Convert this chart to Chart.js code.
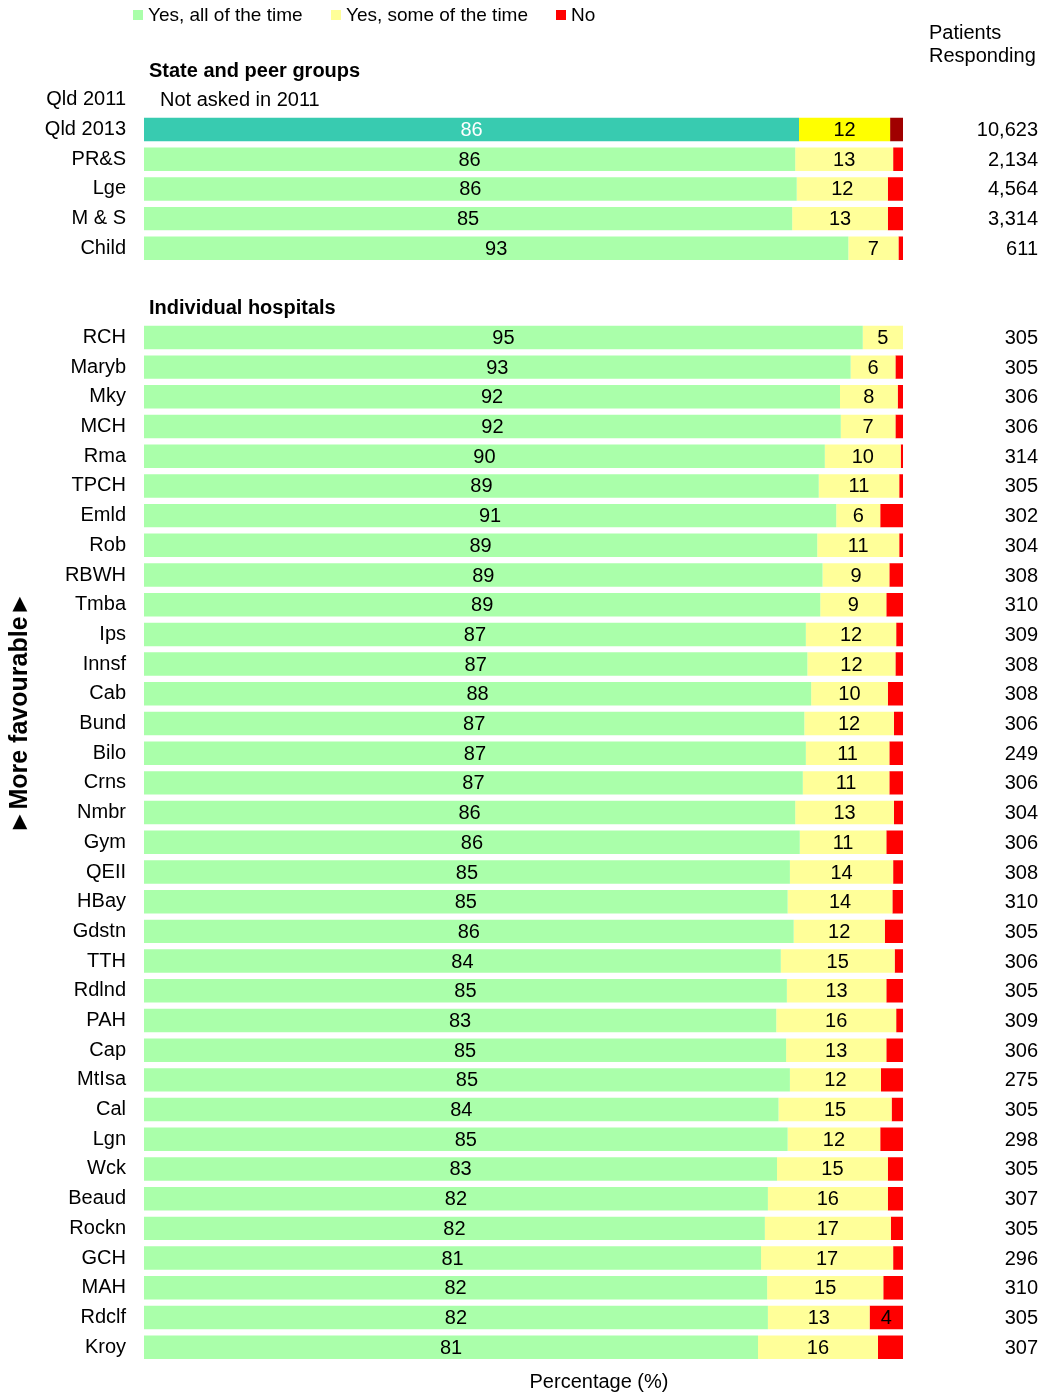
<!DOCTYPE html>
<html>
<head>
<meta charset="utf-8">
<title>More favourable</title>
<script src="https://cdn.jsdelivr.net/npm/chart.js@4/dist/chart.umd.min.js"></script>
<style>
    html, body { margin: 0; padding: 0; background: #fff; }
    #wrap { width: 1045px; height: 1392px; }
</style>
</head>
<body>
<div id="wrap"><canvas id="chart" width="1045" height="1392"></canvas></div>
<script>
'use strict';

var groupLabels = ['Qld 2011', 'Qld 2013', 'PR&S', 'Lge', 'M & S', 'Child'];
var groupAll = [null, 86.3, 85.8, 86.0, 85.4, 92.8];
var groupSome = [null, 12.0, 12.9, 12.0, 12.6, 6.6];
var groupNo = [null, 1.7, 1.3, 2.0, 2.0, 0.6];
var groupN = ['', '10,623', '2,134', '4,564', '3,314', '611'];

var hospitalLabels = ['RCH', 'Maryb', 'Mky', 'MCH', 'Rma', 'TPCH', 'Emld', 'Rob', 'RBWH', 'Tmba',
    'Ips', 'Innsf', 'Cab', 'Bund', 'Bilo', 'Crns', 'Nmbr', 'Gym', 'QEII', 'HBay', 'Gdstn', 'TTH',
    'Rdlnd', 'PAH', 'Cap', 'MtIsa', 'Cal', 'Lgn', 'Wck', 'Beaud', 'Rockn', 'GCH', 'MAH', 'Rdclf', 'Kroy'];
var hospitalAll = [94.7, 93.1, 91.7, 91.8, 89.7, 88.9, 91.2, 88.7, 89.4, 89.1, 87.2, 87.4, 87.9, 87.0,
    87.2, 86.8, 85.8, 86.4, 85.1, 84.8, 85.6, 83.9, 84.7, 83.3, 84.6, 85.1, 83.6, 84.8, 83.4, 82.2,
    81.8, 81.3, 82.1, 82.2, 80.9];
var hospitalSome = [5.3, 5.9, 7.6, 7.2, 10.0, 10.6, 5.8, 10.8, 8.8, 8.7, 11.9, 11.6, 10.1, 11.8,
    11.0, 11.4, 13.0, 11.4, 13.6, 13.8, 12.0, 15.0, 13.1, 15.8, 13.2, 12.0, 14.9, 12.2, 14.6, 15.8,
    16.6, 17.4, 15.3, 13.4, 15.8];
var hospitalNo = [0, 1.0, 0.7, 1.0, 0.3, 0.5, 3.0, 0.5, 1.8, 2.2, 0.9, 1.0, 2.0, 1.2, 1.8, 1.8,
    1.2, 2.2, 1.3, 1.4, 2.4, 1.1, 2.2, 0.9, 2.2, 2.9, 1.5, 3.0, 2.0, 2.0, 1.6, 1.3, 2.6, 4.4, 3.3];
var hospitalN = ['305', '305', '306', '306', '314', '305', '302', '304', '308', '310', '309', '308',
    '308', '306', '249', '306', '304', '306', '308', '310', '305', '306', '305', '309', '306', '275',
    '305', '298', '305', '307', '305', '296', '310', '305', '307'];

var seriesNames = ['Yes, all of the time', 'Yes, some of the time', 'No'];
var seriesColors = ['#aaffaa', '#ffff99', '#ff0000'];
var stateColors = ['#38cbb0', '#ffff00', '#a00000'];

var FONT = '"Liberation Sans", Arial, sans-serif';

// rows: section header, groups, blank, section header, hospitals
var categories = [''].concat(groupLabels, ['', ''], hospitalLabels);
var allData = [null].concat(groupAll, [null, null], hospitalAll);
var someData = [null].concat(groupSome, [null, null], hospitalSome);
var noData = [null].concat(groupNo, [null, null], hospitalNo);
var respondents = [''].concat(groupN, ['', ''], hospitalN);
var stateRow = 2;

function colorsFor(i) {
    return categories.map(function (c, row) {
        return row === stateRow ? stateColors[i] : seriesColors[i];
    });
}

var overlay = {
    id: 'overlay',
    afterDatasetsDraw: function (chart) {
        var ctx = chart.ctx;
        var y = chart.scales.y;
        ctx.save();
        ctx.textBaseline = 'middle';

        // segment values (small No shares are left unlabelled)
        ctx.font = '20px ' + FONT;
        ctx.textAlign = 'center';
        chart.data.datasets.forEach(function (ds, di) {
            chart.getDatasetMeta(di).data.forEach(function (bar, row) {
                var v = ds.data[row];
                if (v === null || v === undefined || v < 3.5) return;
                ctx.fillStyle = (row === stateRow && di === 0) ? '#ffffff' : '#000000';
                ctx.fillText(String(Math.round(v)), (bar.x + bar.base) / 2, bar.y + 1);
            });
        });

        // respondents column
        ctx.fillStyle = '#000';
        ctx.textAlign = 'right';
        respondents.forEach(function (n, row) {
            if (n) ctx.fillText(n, 1038, y.getPixelForValue(row) + 1);
        });
        ctx.textAlign = 'left';
        ctx.fillText('Patients', 929, 33);
        ctx.fillText('Responding', 929, 56);

        // section headers
        ctx.font = 'bold 20px ' + FONT;
        ctx.fillText('State and peer groups', 149, y.getPixelForValue(0) + 1);
        ctx.fillText('Individual hospitals', 149, y.getPixelForValue(groupLabels.length + 2) + 1);
        ctx.font = '20px ' + FONT;
        ctx.fillText('Not asked in 2011', 160, y.getPixelForValue(1) + 1);

        // legend
        var lx = [133, 331, 556];
        ctx.font = '19px ' + FONT;
        seriesNames.forEach(function (name, i) {
            ctx.fillStyle = seriesColors[i];
            ctx.fillRect(lx[i], 10, 10, 10);
            ctx.fillStyle = '#000';
            ctx.fillText(name, lx[i] + 15, 16);
        });

        // x title
        ctx.font = '20px ' + FONT;
        ctx.textAlign = 'center';
        ctx.fillText('Percentage (%)', 599, 1382);

        // side note
        ctx.translate(20, 713);
        ctx.rotate(-Math.PI / 2);
        ctx.font = 'bold 25px ' + FONT;
        ctx.fillText('\u25BAMore favourable\u25BA', 0, 0);
        ctx.restore();
    }
};

new Chart(document.getElementById('chart'), {
    type: 'bar',
    data: {
        labels: categories,
        datasets: seriesNames.map(function (name, i) {
            return {
                label: name,
                data: [allData, someData, noData][i],
                backgroundColor: colorsFor(i),
                borderWidth: 0,
                barPercentage: 0.79,
                categoryPercentage: 1
            };
        })
    },
    options: {
        indexAxis: 'y',
        responsive: false,
        animation: false,
        layout: { padding: { top: 55.3, bottom: 26.9, left: 0, right: 142 } },
        plugins: {
            legend: { display: false },
            tooltip: { enabled: false }
        },
        scales: {
            x: {
                display: false,
                stacked: true,
                min: 0,
                max: 100
            },
            y: {
                stacked: true,
                grid: { display: false, drawTicks: false },
                border: { display: false },
                ticks: {
                    autoSkip: false,
                    padding: 18,
                    color: '#000',
                    font: { family: FONT, size: 20 }
                },
                afterFit: function (scale) {
                    scale.width = 144;
                }
            }
        }
    },
    plugins: [overlay]
});
</script>
</body>
</html>
